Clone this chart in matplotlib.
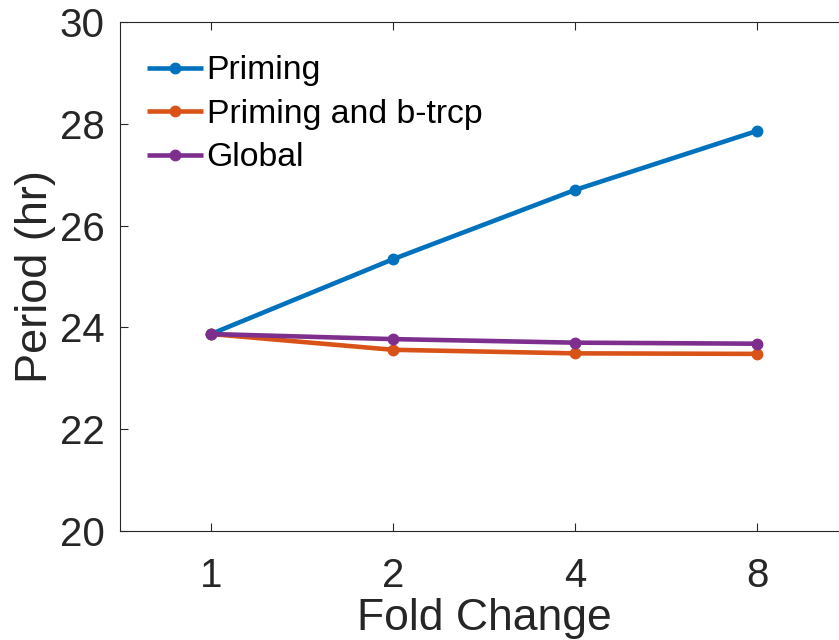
import matplotlib
matplotlib.use("Agg")
import matplotlib.pyplot as plt

plt.rcParams['font.family'] = ['Liberation Sans', 'DejaVu Sans']

fold_labels = ["1", "2", "4", "8"]
priming = [23.87, 25.34, 26.70, 27.86]
priming_btrcp = [23.87, 23.56, 23.49, 23.48]
global_ = [23.87, 23.77, 23.70, 23.68]

colors = ["#0072BD", "#D95319", "#7E2F8E"]
names = ["Priming", "Priming and b-trcp", "Global"]

W, H = 839, 640
fig = plt.figure(figsize=(W / 100, H / 100), dpi=100)
left, right, top, bottom = 120, 848, 22, 531
ax = fig.add_axes([left / W, 1 - bottom / H, (right - left) / W, (bottom - top) / H])

x = list(range(1, len(fold_labels) + 1))
for ys, c, n in zip([priming, priming_btrcp, global_], colors, names):
    ax.plot(x, ys, color=c, lw=3.3, marker='o', markersize=7.5, label=n,
            solid_capstyle='butt')

ax.set_xlim(0.5, 4.5)
ax.set_ylim(20, 30)
ax.set_xticks(x)
ax.set_xticklabels(fold_labels)
ax.set_yticks([20, 22, 24, 26, 28, 30])

for s in ax.spines.values():
    s.set_color("#262626")
    s.set_linewidth(0.8)
ax.tick_params(direction='in', length=6, width=0.8, color="#262626",
               labelsize=29, labelcolor="#262626", top=True, right=True)
ax.tick_params(axis='x', pad=19)
ax.tick_params(axis='y', pad=11)
ax.set_xlabel("Fold Change", fontsize=32, color="#262626", labelpad=2)
ax.set_ylabel("Period (hr)", fontsize=32.5, color="#262626", labelpad=3)

leg = ax.legend(loc='upper left', frameon=False, fontsize=24.3, handlelength=1.65,
                handletextpad=0.12, labelspacing=0.37, bbox_to_anchor=(0.0185, 0.961),
                borderaxespad=0)
for t in leg.get_texts():
    t.set_color("#000000")

fig.savefig("out.png", dpi=100)
